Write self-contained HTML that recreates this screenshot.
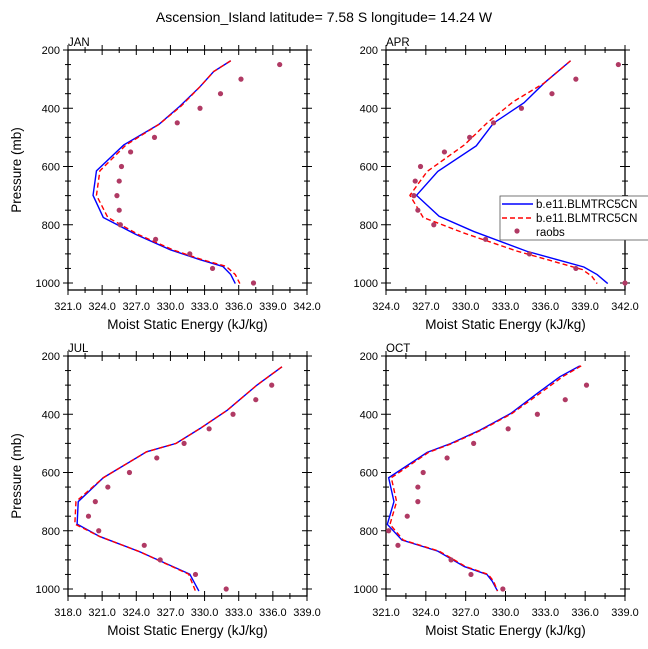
<!DOCTYPE html>
<html><head><meta charset="utf-8">
<style>
html,body{margin:0;padding:0;background:#fff;}
svg{display:block;font-family:"Liberation Sans",sans-serif;}
</style></head>
<body>
<svg id="chart" width="648" height="649" viewBox="0 0 648 649" xmlns="http://www.w3.org/2000/svg">
<text x="324" y="22" text-anchor="middle" font-size="14">Ascension_Island  latitude= 7.58 S longitude= 14.24 W</text>
</svg>
<script>
// ---- data ----
const janBlueP=[237,274,326,394,455,526,615,699,775,834,886,920,943,971,1002];
const janBlueX=[335.3,333.8,332.6,330.8,329.0,325.9,323.5,323.2,324.1,327.0,330.0,332.6,334.6,335.3,335.7];
const janRedP=[237,274,326,394,455,526,615,699,775,834,886,920,943,971,1002];
const janRedX=[335.3,333.8,332.6,330.9,329.0,326.1,323.8,323.5,324.5,327.2,330.2,332.8,334.9,335.7,336.1];
const obsP=[250,300,350,400,450,500,550,600,650,700,750,800,850,900,950,1000];
const janObs=[339.6,336.2,334.4,332.6,330.6,328.6,326.5,325.7,325.5,325.3,325.5,325.6,328.7,331.7,333.7,337.3];

const aprBlueP=[237,314,381,451,529,617,699,771,823,891,920,945,971,1002];
const aprBlueX=[337.9,335.9,334.4,332.1,330.8,327.9,326.3,328.0,330.6,334.6,336.9,338.9,339.9,340.7];
const aprRedP=[237,314,377,451,526,617,699,775,829,891,923,954,977,1002];
const aprRedX=[337.9,335.9,333.6,331.6,329.9,327.1,325.8,326.8,329.9,333.9,336.4,338.8,339.5,339.9];
const aprObs=[341.5,338.3,336.5,334.2,332.1,330.3,328.4,326.6,326.2,326.1,326.4,327.6,331.5,334.8,338.3,342.0];

const julBlueP=[237,300,386,449,500,529,618,700,777,820,872,949,1007];
const julBlueX=[336.8,334.6,332.0,329.6,327.5,324.9,321.1,318.9,318.8,320.8,324.3,328.7,329.5];
const julRedP=[237,300,386,449,500,529,618,700,777,820,872,949,1007];
const julRedX=[336.8,334.6,332.0,329.6,327.5,324.9,321.1,318.7,318.6,320.8,324.3,328.6,329.2];
const julObs=[335.9,334.5,332.5,330.4,328.2,325.8,323.4,321.5,320.4,319.8,320.7,324.7,326.1,329.2,331.9];
const julObsP=[300,350,400,450,500,550,600,650,700,750,800,850,900,950,1000];

const octBlueP=[234,271,328,397,454,500,531,618,700,778,832,870,923,950,973,1007];
const octBlueX=[335.6,334.1,332.4,330.4,328.1,325.9,324.1,321.2,321.6,321.1,322.2,324.9,326.9,328.6,329.0,329.4];
const octRedP=[234,271,328,397,454,500,531,618,700,778,832,870,923,950,973,1007];
const octRedX=[335.7,334.3,332.6,330.5,328.2,326.0,324.2,321.4,321.8,321.3,322.3,325.0,327.0,328.7,329.1,329.4];
const octObs=[336.1,334.5,332.4,330.2,327.6,325.6,323.8,323.4,323.4,322.6,321.2,321.9,325.9,327.4,329.8];
const octObsP=[300,350,400,450,500,550,600,650,700,750,800,850,900,950,1000];

const janTicks=["321.0","324.0","327.0","330.0","333.0","336.0","339.0","342.0"];
const aprTicks=["324.0","327.0","330.0","333.0","336.0","339.0","342.0"];
const julTicks=["318.0","321.0","324.0","327.0","330.0","333.0","336.0","339.0"];
const octTicks=["321.0","324.0","327.0","330.0","333.0","336.0","339.0"];
const yTicks=[200,400,600,800,1000];

const svg=document.getElementById('chart');
const NS="http://www.w3.org/2000/svg";
function mk(tag,attrs,parent){const e=document.createElementNS(NS,tag);for(const k in attrs)e.setAttribute(k,attrs[k]);(parent||svg).appendChild(e);return e;}

function panel(name,L,T,xmin,xmax,xticks,blueP,blueX,redP,redX,oP,oX,showY){
  const W=239,H=240,R=L+W,B=T+H;
  const pmin=200,pmax=1000+7/233*800*1; // bottom frame ~ 1024
  const pBottom=200+H/233*800;
  const sx=v=>L+(v-xmin)/(xmax-xmin)*W;
  const sy=p=>T+(p-200)/(pBottom-200)*H;
  const g=mk('g',{});
  
  
  const clip=mk('clipPath',{id:'c'+name},g);
  mk('rect',{x:L,y:T,width:W,height:H},clip);
  // ticks
  for(let p=200;p<=1000;p+=50){
    const maj=p%200===0, y=sy(p), o=maj?5:3, i=maj?5:3;
    mk('line',{x1:L-o,x2:L+i,y1:y,y2:y,stroke:'#000','stroke-width':1},g);
    mk('line',{x1:R-i,x2:R+o,y1:y,y2:y,stroke:'#000','stroke-width':1},g);
  }
  for(let v=xmin;v<=xmax+0.01;v+=1.5){
    const maj=Math.abs(((v-xmin)/3)-Math.round((v-xmin)/3))<0.01, x=sx(v), o=maj?5:3;
    mk('line',{x1:x,x2:x,y1:B-o,y2:B+o,stroke:'#000','stroke-width':1},g);
    mk('line',{x1:x,x2:x,y1:T-o,y2:T+o,stroke:'#000','stroke-width':1},g);
  }
  const fr=mk('rect',{x:L,y:T,width:W,height:H,fill:'none',stroke:'#000','stroke-width':1.3},g);
  
  
  yTicks.forEach(p=>{
    const t=mk('text',{x:L-8,y:sy(p)+4,'text-anchor':'end','font-size':11},g);t.textContent=p;
    
    
  });
  xticks.forEach(s=>{
    const t=mk('text',{x:sx(parseFloat(s)),y:B+20,'text-anchor':'middle','font-size':11},g);t.textContent=s;
    
    
  });
  const xt=mk('text',{x:(L+R)/2,y:B+39,'text-anchor':'middle','font-size':13.5},g);xt.textContent='Moist Static Energy (kJ/kg)';
  
  
  if(showY){
    const yt=mk('text',{x:0,y:0,'text-anchor':'middle','font-size':13.5,transform:`translate(21,${(T+B)/2}) rotate(-90)`},g);yt.textContent='Pressure (mb)';
    
    
  }
  const lbl=mk('text',{x:L,y:T-4,'font-size':11.5},g);lbl.textContent=name;
  
  
  const gc=mk('g',{'clip-path':`url(#c${name})`},g);
  const blue=mk('polyline',{points:blueP.map((p,i)=>sx(blueX[i])+','+sy(p)).join(' '),fill:'none',stroke:'#0000ff','stroke-width':1.4},gc);
  
  
  const red=mk('polyline',{points:redP.map((p,i)=>sx(redX[i])+','+sy(p)).join(' '),fill:'none',stroke:'#ff0000','stroke-width':1.4,'stroke-dasharray':'5,3'},gc);
  
  
  oP.forEach((p,i)=>{
    const c=mk('circle',{cx:sx(oX[i]),cy:sy(p),r:2.6,fill:'#b03a64'},g);
    
    
  });
}
panel('JAN',68,50,321,342,janTicks,janBlueP,janBlueX,janRedP,janRedX,obsP,janObs,true);
panel('APR',386,50,324,342,aprTicks,aprBlueP,aprBlueX,aprRedP,aprRedX,obsP,aprObs,false);
panel('JUL',68,356,318,339,julTicks,julBlueP,julBlueX,julRedP,julRedX,julObsP,julObs,true);
panel('OCT',386,356,321,339,octTicks,octBlueP,octBlueX,octRedP,octRedX,octObsP,octObs,false);

// legend
const lg=mk('g',{});


mk('rect',{x:500,y:196,width:160,height:44,fill:'#fff',stroke:'#555','stroke-width':0.8},lg);
const names=['b.e11.BLMTRC5CN','b.e11.BLMTRC5CN','raobs'];
[204,218,232].forEach((y,i)=>{
  if(i===0)mk('line',{x1:502,x2:533,y1:y,y2:y,stroke:'#0000ff','stroke-width':1.4},lg);
  if(i===1)mk('line',{x1:502,x2:533,y1:y,y2:y,stroke:'#ff0000','stroke-width':1.4,'stroke-dasharray':'5,3'},lg);
  if(i===2)mk('circle',{cx:517,cy:y-1,r:2.6,fill:'#b03a64'},lg);
  const t=mk('text',{x:536,y:y+4,'font-size':11.5},lg);t.textContent=names[i];
  
  
});
</script>
</body></html>
